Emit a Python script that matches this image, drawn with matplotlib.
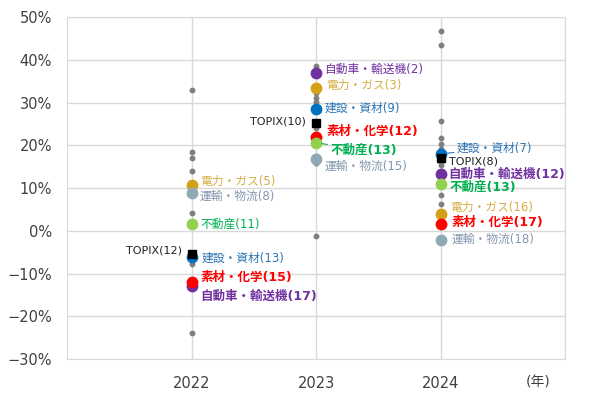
import matplotlib
matplotlib.use("Agg")
import matplotlib.pyplot as plt
from matplotlib.ticker import PercentFormatter

# Latin from DejaVu (Verdana-like), CJK falls back to Noto
plt.rcParams['font.family'] = ['DejaVu Sans', 'Noto Sans CJK JP']

# Data (returns in %)
years = ['2022', '2023', '2024']
others = [
    [33.0, 18.5, 17.0, 14.0, 10.3, 9.5, 4.2, 1.9, -7.7, -12.4, -24.0],
    [38.6, 32.3, 31.0, 30.2, 29.0, 28.9, 24.1, 17.5, 16.0, 15.8, -1.2],
    [46.8, 43.6, 25.8, 21.8, 20.4, 19.2, 16.5, 16.0, 15.4, 8.4, 6.3],
]
sectors = ['自動車・輸送機', '電力・ガス', '建設・資材', '素材・化学', '不動産', '運輸・物流']
sector_vals = {
    '自動車・輸送機': [-13.0, 37.0, 13.3],
    '電力・ガス': [10.8, 33.5, 4.0],
    '建設・資材': [-6.1, 28.6, 18.0],
    '素材・化学': [-12.0, 22.0, 1.6],
    '不動産': [1.6, 20.6, 11.0],
    '運輸・物流': [8.9, 16.9, -2.1],
}
sector_rank = {
    '自動車・輸送機': [17, 2, 12],
    '電力・ガス': [5, 3, 16],
    '建設・資材': [13, 9, 7],
    '素材・化学': [15, 12, 17],
    '不動産': [11, 13, 13],
    '運輸・物流': [8, 15, 18],
}
topix_vals = [-5.4, 25.3, 17.1]
topix_rank = [12, 10, 8]

# styles
marker_col = {
    '自動車・輸送機': '#7030A0', '電力・ガス': '#D4A017', '建設・資材': '#0070C0',
    '素材・化学': '#FF0000', '不動産': '#92D050', '運輸・物流': '#8FA9B6',
}
label_col = {
    '自動車・輸送機': '#7030A0', '電力・ガス': '#D6AE45', '建設・資材': '#2E75B6',
    '素材・化学': '#FF0000', '不動産': '#00B050', '運輸・物流': '#8497B0',
}
bold = {
    '自動車・輸送機': [True, False, True],
    '電力・ガス': [False, False, False],
    '建設・資材': [False, False, False],
    '素材・化学': [True, True, True],
    '不動産': [False, True, True],
    '運輸・物流': [False, False, False],
}
# label offsets in pixels (dx, dy), dy positive = up
offs = {
    '自動車・輸送機': [(9, -10), (8, 3), (8, 0)],
    '電力・ガス': [(8, 3), (10, 2), (9, 6)],
    '建設・資材': [(10, -1), (8, 0), (16, 6)],
    '素材・化学': [(9, 5), (10, 5), (11, 2)],
    '不動産': [(9, 0), (14, -7), (9, -3)],
    '運輸・物流': [(8, -4), (8, -8), (11, 1)],
}
leader = {('不動産', 1), ('建設・資材', 2)}

fig = plt.figure(figsize=(6, 3.99), dpi=100)
ax = fig.add_axes([0.112, 0.10, 0.83, 0.857])
xs = [1, 2, 3]

for i, x in enumerate(xs):
    ax.plot([x] * len(others[i]), others[i], 'o', color='#7F7F7F', ms=3.2, zorder=3)

for s in sectors:
    ax.plot(xs, sector_vals[s], 'o', color=marker_col[s], ms=7.5, zorder=4, ls='none')
    for i, x in enumerate(xs):
        dx, dy = offs[s][i]
        b = bold[s][i]
        lbl = f"{s}({sector_rank[s][i]})"
        kw = dict(arrowprops=dict(arrowstyle='-', color=label_col[s], lw=0.8, shrinkA=0, shrinkB=4)) \
            if (s, i) in leader else {}
        ax.annotate(lbl, (x, sector_vals[s][i]), xytext=(dx * 0.72, dy * 0.72),
                    textcoords='offset points', ha='left', va='center',
                    color=label_col[s], fontsize=9 if b else 8.5,
                    fontweight='bold' if b else 'normal', zorder=6, **kw)

ax.plot(xs, topix_vals, 's', color='black', ms=6, zorder=5, ls='none')
topix_offs = [(-10, 3), (-10, 1), (8, -4)]
for i, x in enumerate(xs):
    dx, dy = topix_offs[i]
    ax.annotate(f"TOPIX({topix_rank[i]})", (x, topix_vals[i]), xytext=(dx * 0.72, dy * 0.72),
                textcoords='offset points', ha='right' if dx < 0 else 'left', va='center',
                color='#222222', fontsize=8, zorder=6)

ax.set_xlim(0, 4)
ax.set_ylim(-30, 50)
ax.set_yticks(range(-30, 51, 10))
ax.yaxis.set_major_formatter(PercentFormatter(decimals=0))
ax.set_xticks(xs + [4])
ax.set_xticklabels(years + [''])
ax.tick_params(length=0, labelsize=10.5, colors='#404040', pad=12)
ax.tick_params(axis='y', pad=11)
ax.grid(True, color='#D9D9D9', lw=1)
ax.set_axisbelow(True)
for sp in ax.spines.values():
    sp.set_color('#D9D9D9')

ax.annotate('(年)', (0.945, 0), xycoords='axes fraction', xytext=(0, -17),
            textcoords='offset points', ha='center', va='center', fontsize=10, color='#404040')

fig.savefig('out.png', dpi=100)
